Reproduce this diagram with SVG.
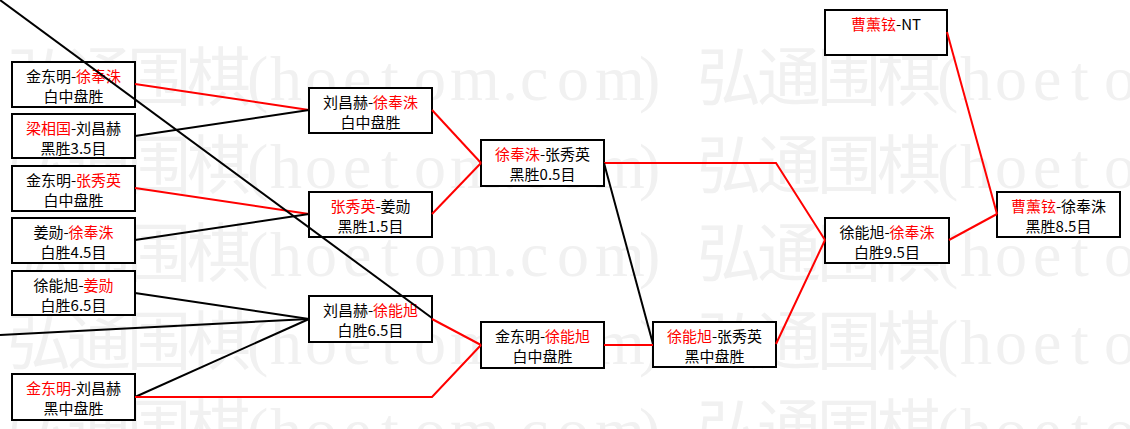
<svg xmlns="http://www.w3.org/2000/svg" xmlns:xlink="http://www.w3.org/1999/xlink" width="1130" height="429" viewBox="0 0 1130 429">
<style>
.bg{fill:#fff}
.wm{font-family:"Liberation Serif","Noto Sans CJK SC",serif;font-size:64px;fill:#f1f1f1}
.box{fill:#fff;stroke:#000;stroke-width:2}
.t{font-family:"Noto Sans CJK SC","Noto Sans",sans-serif;font-size:15px;fill:#000;text-anchor:middle}
.r{fill:#f00}
.cr{fill:none;stroke:#f00;stroke-width:2}
.ck{fill:none;stroke:#000;stroke-width:2}
</style>
<defs>
<text id="wmrow" class="wm" y="0" x="7 67 127 187 247 270 305 343 381 414 450 502 520 557 595 639 697 757 817 877 937 960 995 1033 1071 1104 1140 1192 1210 1247 1285 1329">弘通围棋(hoetom.com)弘通围棋(hoetom.com)</text>
</defs>
<rect class="bg" x="0" y="0" width="1130" height="429"/>
<g id="watermark">
<use xlink:href="#wmrow" transform="translate(0,100)"/>
<use xlink:href="#wmrow" transform="translate(0,188)"/>
<use xlink:href="#wmrow" transform="translate(0,276)"/>
<use xlink:href="#wmrow" transform="translate(0,364)"/>
<use xlink:href="#wmrow" transform="translate(0,452)"/>
</g>
<g id="n_a"><rect class="box" x="12" y="62" width="123" height="45"/><text class="t" x="73.5" y="82">金东明-<tspan class="r">徐奉洙</tspan></text><text class="t" x="73.5" y="102">白中盘胜</text></g>
<g id="n_b"><rect class="box" x="12" y="114" width="123" height="44"/><text class="t" x="73.5" y="134"><tspan class="r">梁相国</tspan>-刘昌赫</text><text class="t" x="73.5" y="154">黑胜3.5目</text></g>
<g id="n_c"><rect class="box" x="12" y="166" width="123" height="45"/><text class="t" x="73.5" y="186">金东明-<tspan class="r">张秀英</tspan></text><text class="t" x="73.5" y="206">白中盘胜</text></g>
<g id="n_d"><rect class="box" x="12" y="218" width="123" height="45"/><text class="t" x="73.5" y="238">姜勋-<tspan class="r">徐奉洙</tspan></text><text class="t" x="73.5" y="258">白胜4.5目</text></g>
<g id="n_e"><rect class="box" x="12" y="271" width="123" height="44"/><text class="t" x="73.5" y="291">徐能旭-<tspan class="r">姜勋</tspan></text><text class="t" x="73.5" y="311">白胜6.5目</text></g>
<g id="n_f"><rect class="box" x="12" y="374" width="123" height="46"/><text class="t" x="73.5" y="394"><tspan class="r">金东明</tspan>-刘昌赫</text><text class="t" x="73.5" y="414">黑中盘胜</text></g>
<g id="n_r2a"><rect class="box" x="309" y="88" width="123" height="45"/><text class="t" x="370.5" y="108">刘昌赫-<tspan class="r">徐奉洙</tspan></text><text class="t" x="370.5" y="128">白中盘胜</text></g>
<g id="n_r2b"><rect class="box" x="309" y="192" width="123" height="45"/><text class="t" x="370.5" y="212"><tspan class="r">张秀英</tspan>-姜勋</text><text class="t" x="370.5" y="232">黑胜1.5目</text></g>
<g id="n_r2c"><rect class="box" x="309" y="296" width="123" height="46"/><text class="t" x="370.5" y="316">刘昌赫-<tspan class="r">徐能旭</tspan></text><text class="t" x="370.5" y="336">白胜6.5目</text></g>
<g id="n_r3a"><rect class="box" x="481" y="140" width="123" height="46"/><text class="t" x="542.5" y="160"><tspan class="r">徐奉洙</tspan>-张秀英</text><text class="t" x="542.5" y="180">黑胜0.5目</text></g>
<g id="n_r3b"><rect class="box" x="481" y="322" width="123" height="46"/><text class="t" x="542.5" y="342">金东明-<tspan class="r">徐能旭</tspan></text><text class="t" x="542.5" y="362">白中盘胜</text></g>
<g id="n_r4"><rect class="box" x="653" y="322" width="123" height="45"/><text class="t" x="714.5" y="342"><tspan class="r">徐能旭</tspan>-张秀英</text><text class="t" x="714.5" y="362">黑中盘胜</text></g>
<g id="n_r5"><rect class="box" x="825" y="218" width="124" height="45"/><text class="t" x="887" y="238">徐能旭-<tspan class="r">徐奉洙</tspan></text><text class="t" x="887" y="258">白胜9.5目</text></g>
<g id="n_nt"><rect class="box" x="825" y="10" width="122" height="45"/><text class="t" x="886" y="30"><tspan class="r">曹薰铉</tspan>-NT</text></g>
<g id="n_final"><rect class="box" x="997" y="192" width="123" height="45"/><text class="t" x="1058.5" y="212"><tspan class="r">曹薰铉</tspan>-徐奉洙</text><text class="t" x="1058.5" y="232">黑胜8.5目</text></g>
<g id="connectors">
<polyline class="cr" points="135,84 309,110"/>
<polyline class="ck" points="135,136 309,110"/>
<polyline class="cr" points="135,188 309,214"/>
<polyline class="ck" points="135,240 309,214"/>
<polyline class="ck" points="135,293 309,319"/>
<polyline class="ck" points="0,335 309,319"/>
<polyline class="ck" points="135,397 309,319"/>
<polyline class="cr" points="135,397 432,397 481,345"/>
<polyline class="cr" points="432,319 481,345"/>
<polyline class="cr" points="432,110 481,163"/>
<polyline class="cr" points="432,214 481,163"/>
<polyline class="cr" points="604,163 776,163 825,240"/>
<polyline class="ck" points="604,163 653,344"/>
<polyline class="cr" points="604,345 653,345"/>
<polyline class="cr" points="776,344 825,240"/>
<polyline class="cr" points="949,240 997,214"/>
<polyline class="cr" points="947,32 997,214"/>
<polyline class="ck" points="0,0 432,318"/>
</g>
</svg>
